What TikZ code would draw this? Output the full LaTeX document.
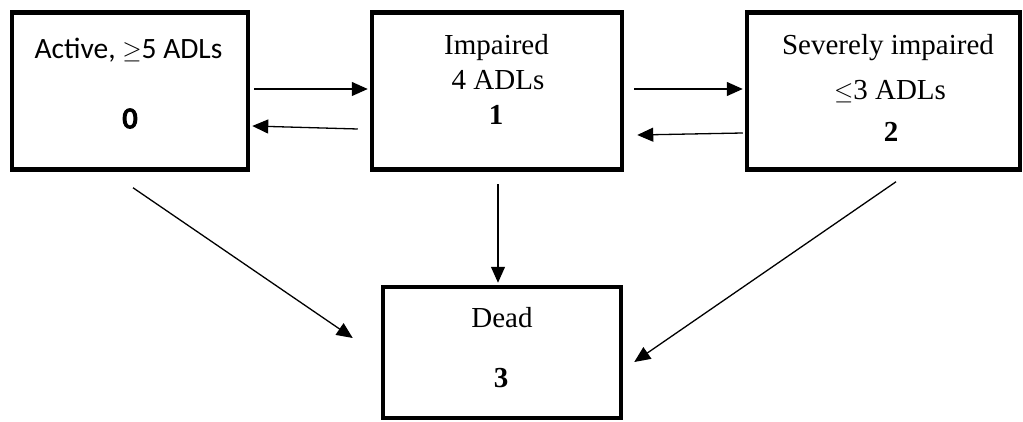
\documentclass[tikz,border=0pt]{standalone}
\usepackage{amssymb}
\usepackage{amsmath}
\usepackage{fontspec}
\setmainfont{Liberation Serif}
\newfontfamily\calfont{Carlito}
\newfontfamily\calboldfont{Carlito}[FakeBold=5]
\usepackage{tikz}
\usetikzlibrary{arrows.meta}

\begin{document}
\begin{tikzpicture}[x=1pt,y=1pt]
        \tikzset{state/.style = {shape=rectangle,draw,line width=4.5pt,inner sep=0pt}}
        \tikzset{trans/.style = {-{Triangle[length=16pt,width=14pt]},line width=1.3pt}}
        \tikzset{txt/.style = {anchor=base,inner sep=0pt,font=\fontsize{29}{35}\selectfont}}
        \tikzset{sans/.style = {anchor=base,inner sep=0pt,font=\calfont\fontsize{29.5}{35}\selectfont}}
        \useasboundingbox (0,0) rectangle (1023,421);
        % states
        \node[state, minimum width=236pt, minimum height=157pt] (s0) at (130,330) {};
        \node[state, minimum width=250pt, minimum height=157pt] (s1) at (497,330) {};
        \node[state, minimum width=273pt, minimum height=157pt] (s2) at (883.5,330) {};
        \node[state, minimum width=238pt, minimum height=131pt] (s3) at (502,68.5) {};
        % labels
        \node[sans] (t0a) at (128.5,362) {Active, $\geq$5 ADLs};
        \node[sans] (t0b) at (130,293) {\calboldfont\fontsize{29.5}{35}\selectfont 0};
        \node[txt] (t1a) at (496.5,366) {Impaired};
        \node[txt] (t1b) at (498,331) {4 ADLs};
        \node[txt] (t1c) at (496,296) {\bfseries 1};
        \node[txt] (t2a) at (888,366) {Severely impaired};
        \node[txt] (t2b) at (890,321) {$\leq$3 ADLs};
        \node[txt] (t2c) at (891,279) {\bfseries 2};
        \node[txt] (t3a) at (502,94) {Dead};
        \node[txt] (t3b) at (501,34) {\bfseries 3};
        %edges
        \draw[trans] ([xshift=4pt,yshift=2pt]s0.east) to ([xshift=-2pt,yshift=2pt]s1.west);
        \draw[trans] ([xshift=-12pt,yshift=-38pt]s1.west) to ([xshift=2pt,yshift=-35pt]s0.east);
        \draw[trans] ([xshift=10pt,yshift=2pt]s1.east) to ([xshift=-2pt,yshift=2pt]s2.west);
        \draw[trans] ([xshift=-2pt,yshift=-42pt]s2.west) to ([xshift=13pt,yshift=-44pt]s1.east);
        \draw[trans] ([xshift=1pt,yshift=-12.5pt]s1.south) to ([xshift=-4pt,yshift=2pt]s3.north);
        \draw[trans] ([xshift=3pt,yshift=-16pt]s0.south) to ([xshift=-28pt,yshift=14.5pt]s3.west);
        \draw[trans] ([xshift=12.5pt,yshift=-10pt]s2.south) to ([xshift=11pt,yshift=-9.5pt]s3.east);
    \end{tikzpicture}
\end{document}
